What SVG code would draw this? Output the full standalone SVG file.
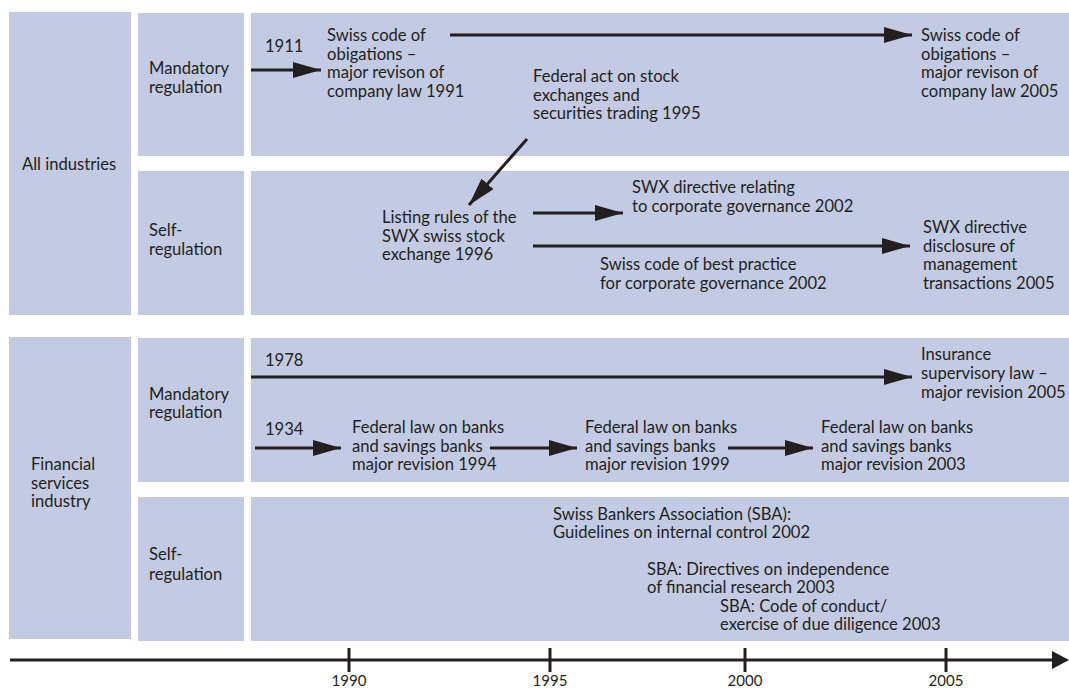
<svg xmlns="http://www.w3.org/2000/svg" width="1069" height="688" viewBox="0 0 1069 688">
<style>
.box{fill:#c2cbe3}
text{font-family:Lato,"Liberation Sans",sans-serif;font-size:16.6px;fill:#231f20}
.ln{stroke:#231f20;stroke-width:3;fill:none}
.ar{stroke:#231f20;stroke-width:3;fill:none;marker-end:url(#ah)}
.yr{font-size:15px}
</style>
<defs>
<marker id="ah" markerUnits="userSpaceOnUse" markerWidth="28" markerHeight="16" refX="28" refY="8" orient="auto">
<path d="M0,0 L28,8 L0,16 Z" fill="#231f20"/>
</marker>
</defs>
<rect width="1069" height="688" fill="#fff"/>

<g id="all-industries">
<rect class="box" x="9" y="12" width="122" height="303"/>
<text x="22" y="170">All industries</text>
</g>
<g id="mandatory-1">
<rect class="box" x="138" y="13" width="106" height="143"/>
<text x="149" y="74">Mandatory</text>
<text x="149" y="93">regulation</text>
</g>
<g id="panel-mandatory-1">
<rect class="box" x="251" y="13" width="818" height="143"/>
</g>
<g id="self-1">
<rect class="box" x="138" y="171" width="106" height="144"/>
<text x="149" y="236">Self-</text>
<text x="149" y="255">regulation</text>
</g>
<g id="panel-self-1">
<rect class="box" x="251" y="171" width="818" height="144"/>
</g>

<g id="financial">
<rect class="box" x="9" y="337" width="122" height="302"/>
<text x="31" y="470">Financial</text>
<text x="31" y="489">services</text>
<text x="31" y="507">industry</text>
</g>
<g id="mandatory-2">
<rect class="box" x="138" y="338" width="106" height="144"/>
<text x="149" y="400">Mandatory</text>
<text x="149" y="418">regulation</text>
</g>
<g id="panel-mandatory-2">
<rect class="box" x="251" y="338" width="818" height="144"/>
</g>
<g id="self-2">
<rect class="box" x="138" y="497" width="106" height="144"/>
<text x="149" y="560">Self-</text>
<text x="149" y="580">regulation</text>
</g>
<g id="panel-self-2">
<rect class="box" x="251" y="497" width="818" height="144"/>
</g>

<g id="t1911"><text x="265" y="52">1911</text></g>
<g id="code-1991">
<text x="327" y="41">Swiss code of</text>
<text x="327" y="60">obigations –</text>
<text x="327" y="78">major revison of</text>
<text x="327" y="97">company law 1991</text>
</g>
<g id="code-2005">
<text x="921" y="41">Swiss code of</text>
<text x="921" y="60">obigations –</text>
<text x="921" y="78">major revison of</text>
<text x="921" y="97">company law 2005</text>
</g>
<g id="federal-act-1995">
<text x="533" y="82">Federal act on stock</text>
<text x="533" y="101">exchanges and</text>
<text x="533" y="119">securities trading 1995</text>
</g>
<g id="listing-1996">
<text x="382" y="223">Listing rules of the</text>
<text x="382" y="242">SWX swiss stock</text>
<text x="382" y="260">exchange 1996</text>
</g>
<g id="swx-2002">
<text x="632" y="193">SWX directive relating</text>
<text x="632" y="212">to corporate governance 2002</text>
</g>
<g id="best-practice-2002">
<text x="600" y="270">Swiss code of best practice</text>
<text x="600" y="289">for corporate governance 2002</text>
</g>
<g id="swx-2005">
<text x="923" y="233">SWX directive</text>
<text x="923" y="252">disclosure of</text>
<text x="923" y="270">management</text>
<text x="923" y="289">transactions 2005</text>
</g>

<g id="t1978"><text x="265" y="366">1978</text></g>
<g id="insurance-2005">
<text x="921" y="360">Insurance</text>
<text x="921" y="379">supervisory law –</text>
<text x="921" y="398">major revision 2005</text>
</g>
<g id="t1934"><text x="265" y="435">1934</text></g>
<g id="banks-1994">
<text x="352" y="433">Federal law on banks</text>
<text x="352" y="452">and savings banks</text>
<text x="352" y="470">major revision 1994</text>
</g>
<g id="banks-1999">
<text x="585" y="433">Federal law on banks</text>
<text x="585" y="452">and savings banks</text>
<text x="585" y="470">major revision 1999</text>
</g>
<g id="banks-2003">
<text x="821" y="433">Federal law on banks</text>
<text x="821" y="452">and savings banks</text>
<text x="821" y="470">major revision 2003</text>
</g>
<g id="sba-2002">
<text x="553" y="520">Swiss Bankers Association (SBA):</text>
<text x="553" y="538">Guidelines on internal control 2002</text>
</g>
<g id="sba-research-2003">
<text x="647" y="575">SBA: Directives on independence</text>
<text x="647" y="593">of financial research 2003</text>
</g>
<g id="sba-conduct-2003">
<text x="720" y="612">SBA: Code of conduct/</text>
<text x="720" y="630">exercise of due diligence 2003</text>
</g>

<g id="connectors">
<line class="ar" x1="251" y1="70" x2="321" y2="70"/>
<line class="ar" x1="450" y1="35" x2="912" y2="35"/>
<line class="ar" x1="527" y1="139" x2="469" y2="205"/>
<line class="ar" x1="533" y1="213" x2="623" y2="213"/>
<line class="ar" x1="533" y1="246" x2="910" y2="246"/>
<line class="ar" x1="251" y1="377" x2="912" y2="377"/>
<line class="ar" x1="255" y1="448" x2="341" y2="448"/>
<line class="ar" x1="490" y1="448" x2="577" y2="448"/>
<line class="ar" x1="728" y1="448" x2="813" y2="448"/>
</g>

<g id="axis">
<line class="ln" x1="10" y1="660" x2="1056" y2="660"/>
<path d="M1052,651 L1069,660 L1052,669 Z" fill="#231f20"/>
<line class="ln" stroke-width="2" x1="349" y1="648" x2="349" y2="672"/>
<line class="ln" stroke-width="2" x1="550" y1="648" x2="550" y2="672"/>
<line class="ln" stroke-width="2" x1="745" y1="648" x2="745" y2="672"/>
<line class="ln" stroke-width="2" x1="946" y1="648" x2="946" y2="672"/>
<text class="yr" x="349" y="686" text-anchor="middle">1990</text>
<text class="yr" x="550" y="686" text-anchor="middle">1995</text>
<text class="yr" x="745" y="686" text-anchor="middle">2000</text>
<text class="yr" x="946" y="686" text-anchor="middle">2005</text>
</g>
</svg>
